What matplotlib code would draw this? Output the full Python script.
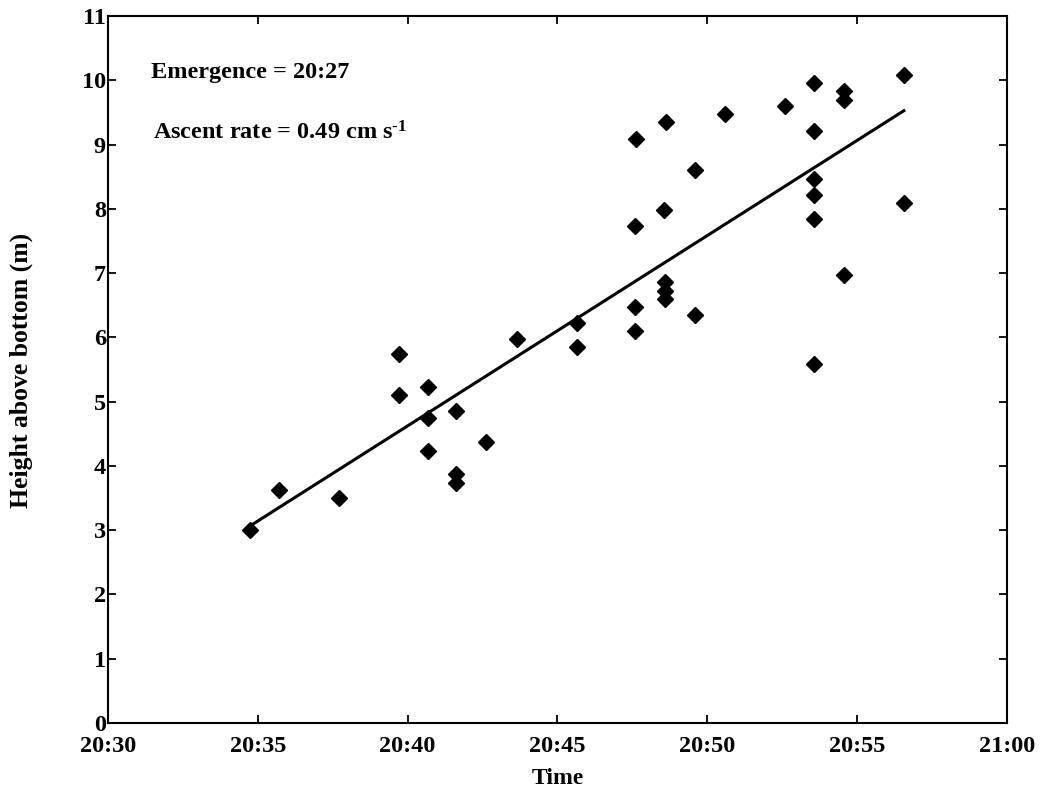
import numpy as np
import matplotlib.pyplot as plt
from matplotlib.ticker import MultipleLocator, FuncFormatter

plt.rcParams["font.family"] = ["Liberation Serif", "DejaVu Serif"]
plt.rcParams["font.weight"] = "bold"
plt.rcParams["mathtext.fontset"] = "custom"
plt.rcParams["mathtext.rm"] = "Liberation Serif:bold"
plt.rcParams["mathtext.it"] = "Liberation Serif:bold"
plt.rcParams["mathtext.bf"] = "Liberation Serif:bold"

# minutes after 20:00
time_min = [34.74, 35.71, 37.71, 39.70, 39.70, 40.68, 40.67, 40.67,
            41.62, 41.62, 41.62, 42.63, 43.65,
            45.64, 45.64, 47.61, 47.58, 47.58, 47.58,
            48.61, 48.56, 48.58, 48.58, 48.58, 49.60, 49.60, 50.60,
            52.59, 53.56, 53.56, 53.56, 53.56, 53.56, 53.56,
            54.57, 54.57, 54.57, 56.56, 56.56]
height_m = [3.00, 3.62, 3.50, 5.74, 5.11, 5.23, 4.74, 4.23,
            4.85, 3.87, 3.73, 4.37, 5.97,
            6.23, 5.85, 9.09, 7.73, 6.47, 6.10,
            9.35, 7.98, 6.86, 6.72, 6.60, 8.60, 6.35, 9.48,
            9.60, 9.96, 9.21, 8.47, 8.22, 7.84, 5.59,
            9.84, 9.70, 6.97, 10.08, 8.09]

t = np.array(time_min)
h = np.array(height_m)
slope, intercept = np.polyfit(t, h, 1)
t_line = np.array([t.min(), t.max()])
h_line = slope * t_line + intercept

fig = plt.figure(figsize=(10.42, 8), dpi=100)
ax = fig.add_axes([0.1036, 0.09625, 0.8628, 0.88375])

ax.plot(t, h, "D", color="black", markersize=8)
ax.plot(t_line, h_line, "-", color="black", linewidth=2.2)

ax.set_xlim(30, 60)
ax.set_ylim(0, 11)
ax.xaxis.set_major_locator(MultipleLocator(5))
ax.yaxis.set_major_locator(MultipleLocator(1))
ax.xaxis.set_major_formatter(FuncFormatter(
    lambda v, p: f"{20 + int(v) // 60}:{int(v) % 60:02d}"))

ax.tick_params(direction="in", length=6, width=1.3, top=True, right=True,
               labelsize=17.5)
ax.tick_params(axis="x", pad=9)
ax.tick_params(axis="y", pad=1.5)
for sp in ax.spines.values():
    sp.set_linewidth(1.5)

ax.set_xlabel("Time", fontsize=17, fontweight="bold")
ax.set_ylabel("Height above bottom (m)", fontsize=18.5, fontweight="bold")
ax.xaxis.set_label_coords(0.5, -0.064)
ax.yaxis.set_label_coords(-0.083, 0.498)

ax.text(0.048, 0.92, "Emergence = 20:27", transform=ax.transAxes,
        fontsize=17.5, fontweight="bold", va="center", ha="left")
ax.text(0.05, 0.834, r"Ascent rate = 0.49 cm s$^{\text{-1}}$",
        transform=ax.transAxes, fontsize=17.5, fontweight="bold",
        va="center", ha="left")

fig.savefig("out.png", dpi=100)
